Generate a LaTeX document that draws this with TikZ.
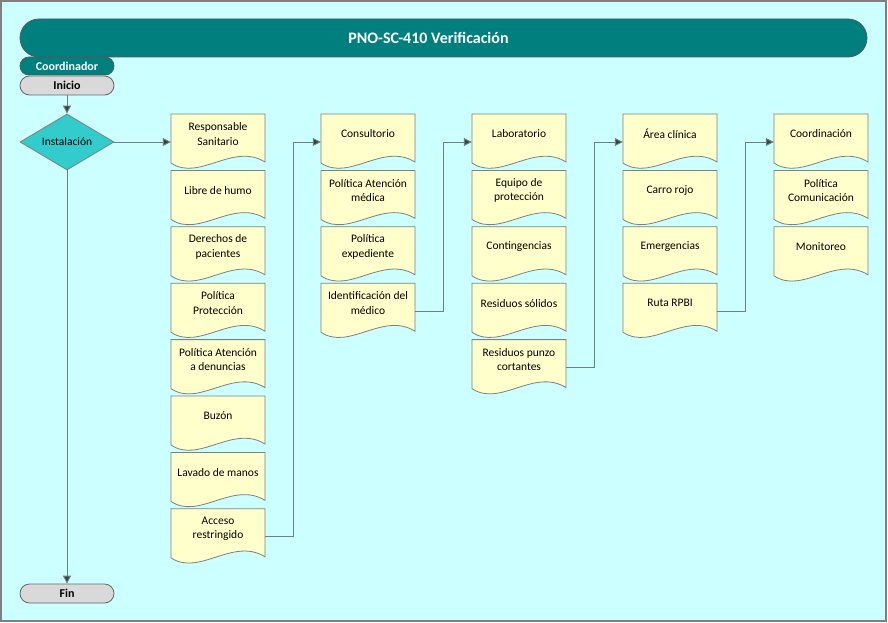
\documentclass[tikz,border=0pt]{standalone}
\usepackage{fontspec}
\setmainfont{Carlito}
\usetikzlibrary{arrows.meta,shapes.geometric}
\definecolor{bgcyan}{HTML}{CCFFFF}
\definecolor{tealdark}{HTML}{007F7F}
\definecolor{docfill}{HTML}{FFFFCC}
\definecolor{edgegray}{HTML}{7F7F7F}
\definecolor{diafill}{HTML}{33CCCC}
\definecolor{termfill}{HTML}{D9D9D9}
\definecolor{tipcol}{HTML}{404040}
\definecolor{linecol}{HTML}{6F7F7F}
\tikzset{
  frame/.style={draw=edgegray, fill=bgcyan, line width=1.2pt},
  titlebar/.style={rectangle, rounded corners=19pt, draw=edgegray!70!black, fill=tealdark,
    minimum width=847pt, minimum height=38pt, inner sep=0pt, line width=0.8pt},
  titletext/.style={text=white, font=\fontsize{16}{19}\selectfont\bfseries},
  lanehead/.style={rectangle, rounded corners=9pt, draw=edgegray!70!black, fill=tealdark,
    minimum width=94pt, minimum height=18pt, inner sep=0pt, text=white,
    font=\fontsize{12}{14}\selectfont\bfseries, line width=0.8pt},
  terminal/.style={rectangle, rounded corners=9.5pt, draw=edgegray!80!black, fill=termfill,
    minimum width=94pt, minimum height=19pt, inner sep=0pt,
    font=\fontsize{12}{14}\selectfont\bfseries, line width=0.8pt},
  decision/.style={diamond, draw=edgegray, fill=diafill, minimum width=94pt, minimum height=56pt,
    inner sep=0pt, aspect=1.68, font=\fontsize{11.5}{14}\selectfont, line width=0.8pt},
  docbox/.style={rectangle, minimum width=94pt, minimum height=56pt, inner sep=0pt},
  docshape/.style={draw=edgegray, fill=docfill, line width=0.8pt},
  doctext/.style={align=center, font=\fontsize{11.5}{14.5}\selectfont, inner sep=0pt},
  conn/.style={draw=linecol, line width=0.9pt},
  arr/.style={conn, -{Triangle[length=8pt,width=8pt,fill=tipcol]}},
}
\newcommand{\docnode}[4]{%
  \begin{scope}[shift={(#2,#3)}]
    \path[docshape] (0,0) -- (94,0) -- (94,48) .. controls (62,28) and (28,68) .. (0,49) -- cycle;
  \end{scope}
  \node[docbox, label={[doctext, yshift=8pt]center:{#4}}] (#1) at (#2+47,#3+28) {};
}
\begin{document}
\begin{tikzpicture}[x=1pt, y=-1pt]
  \useasboundingbox (0,0) rectangle (888,623);
  \path[frame] (1,1) rectangle (886,621);

  \node[titlebar, label={[titletext, xshift=-15pt]center:PNO-SC-410 Verificación}] (title) at (443.5,38) {};
  \node[lanehead] (coord) at (67,66) {Coordinador};
  \node[terminal] (inicio) at (67,85.5) {Inicio};
  \node[decision] (inst) at (67,142) {Instalación};
  \node[terminal] (fin) at (67,593.5) {Fin};

  % column 1
  \docnode{resp}{171}{114}{Responsable\\Sanitario}
  \docnode{libre}{171}{170.4}{Libre de humo}
  \docnode{derechos}{171}{226.8}{Derechos de\\pacientes}
  \docnode{proteccion}{171}{283.2}{Política\\Protección}
  \docnode{denuncias}{171}{339.6}{Política Atención\\a denuncias}
  \docnode{buzon}{171}{396}{Buzón}
  \docnode{lavado}{171}{452.4}{Lavado de manos}
  \docnode{acceso}{171}{508.8}{Acceso\\restringido}
  % column 2
  \docnode{consult}{321}{114}{Consultorio}
  \docnode{medica}{321}{170.4}{Política Atención\\médica}
  \docnode{expediente}{321}{226.8}{Política\\expediente}
  \docnode{ident}{321}{283.2}{Identificación del\\médico}
  % column 3
  \docnode{lab}{472}{114}{Laboratorio}
  \docnode{equipo}{472}{170.4}{Equipo de\\protección}
  \docnode{conting}{472}{226.8}{Contingencias}
  \docnode{solidos}{472}{283.2}{Residuos sólidos}
  \docnode{punzo}{472}{339.6}{Residuos punzo\\cortantes}
  % column 4
  \docnode{area}{623}{114}{Área clínica}
  \docnode{carro}{623}{170.4}{Carro rojo}
  \docnode{emerg}{623}{226.8}{Emergencias}
  \docnode{ruta}{623}{283.2}{Ruta RPBI}
  % column 5
  \docnode{coordn}{774}{114}{Coordinación}
  \docnode{comun}{774}{170.4}{Política\\Comunicación}
  \docnode{monit}{774}{226.8}{Monitoreo}

  % connectors
  \draw[arr] (inicio.south) -- (inst.north);
  \draw[arr] (inst.east) -- (resp.west);
  \draw[arr] (inst.south) -- (fin.north);
  \draw[arr] (acceso.east) -- ++(28,0) |- (consult.west);
  \draw[arr] (ident.east) -- ++(28,0) |- (lab.west);
  \draw[arr] (punzo.east) -- ++(28,0) |- (area.west);
  \draw[arr] (ruta.east) -- ++(28,0) |- (coordn.west);
\end{tikzpicture}
\end{document}
